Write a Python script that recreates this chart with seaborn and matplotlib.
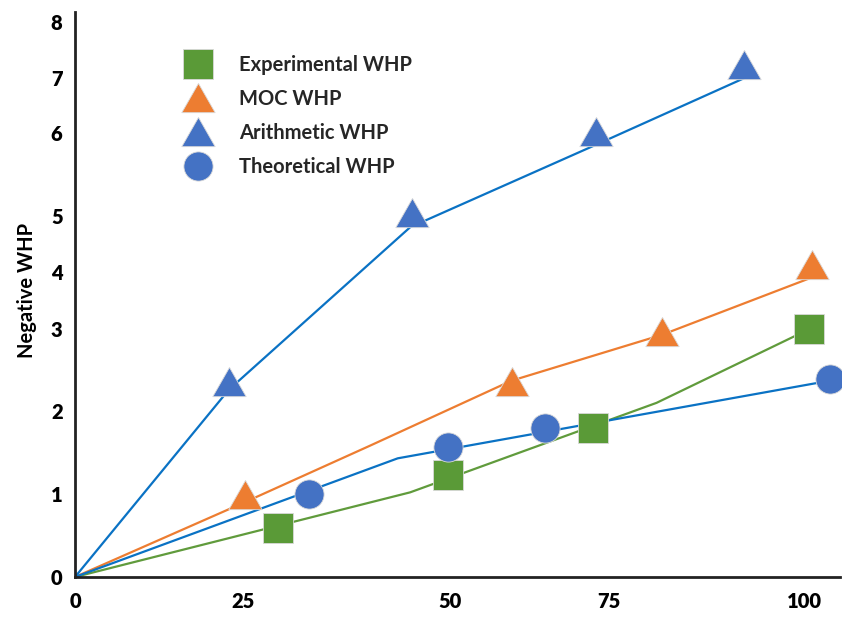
import numpy as np
import matplotlib
matplotlib.use("Agg")
import matplotlib.pyplot as plt
from matplotlib.lines import Line2D
from matplotlib.path import Path
import seaborn as sns

# ---- data -------------------------------------------------------------
x_ticks = [0, 25, 50, 75, 100]
y_ticks = [0, 1, 2, 3, 4, 5, 6, 7, 8]

# fitted / computed curves
exp_line_x = [0, 45.2, 81.1, 100.6]
exp_line_y = [0, 1.02, 2.10, 3.00]
moc_line_x = [0, 25.2, 40.3, 59.7, 81.8, 101.0]
moc_line_y = [0, 0.90, 1.58, 2.37, 2.93, 3.91]
ari_line_x = [0, 22.9, 45.2, 73.6, 92.3]
ari_line_y = [0, 2.26, 4.80, 5.88, 7.00]
the_line_x = [0, 43.7, 103.2]
the_line_y = [0, 1.43, 2.37]

# measured / reported points
exp_pts_x = [29.2, 49.8, 72.5, 100.6]
exp_pts_y = [0.59, 1.23, 1.80, 3.00]
moc_pts_x = [25.2, 59.7, 81.8, 100.9]
moc_pts_y = [0.99, 2.35, 2.96, 4.13]
ari_pts_x = [22.9, 45.4, 73.0, 92.3]
ari_pts_y = [2.35, 5.04, 6.02, 7.23]
the_pts_x = [33.0, 49.8, 64.9, 103.2]
the_pts_y = [1.00, 1.57, 1.80, 2.39]

labels = ["Experimental WHP", "MOC WHP", "Arithmetic WHP", "Theoretical WHP"]

# axis scale knots (value -> relative position)
x_knots_val = [-100, 0, 25, 50, 75, 100, 200]
x_knots_pos = [-672, 0, 168, 375, 534, 730, 1514]
y_knots_val = [-10, 0, 1, 2, 3, 4, 5, 6, 7, 8, 20]
y_knots_pos = [-830, 0, 83, 166, 248, 305, 361, 444, 499, 555, 1227]

# ---- styling ----------------------------------------------------------
sns.set_theme(style="white")
plt.rcParams["font.family"] = ["Lato", "DejaVu Sans"]

GREEN = "#5a9a37"
GREEN_LINE = "#609b3c"
ORANGE = "#ed7d31"
BLUE_MK = "#4472c4"
BLUE_LN = "#0a72c4"

tri = Path([(-1.0, -0.85), (1.0, -0.85), (0.0, 0.9), (-1.0, -0.85)],
           [Path.MOVETO, Path.LINETO, Path.LINETO, Path.CLOSEPOLY])

fig = plt.figure(figsize=(8.42, 6.22), dpi=100)
W, H = 842, 622
ax = fig.add_axes([75 / W, (H - 577) / H, (840 - 75) / W, (577 - 12) / H])


def fwd(knv, knp):
    return lambda v: np.interp(v, knv, knp)


def inv(knv, knp):
    return lambda p: np.interp(p, knp, knv)


ax.set_xscale("function", functions=(fwd(x_knots_val, x_knots_pos), inv(x_knots_val, x_knots_pos)))
ax.set_yscale("function", functions=(fwd(y_knots_val, y_knots_pos), inv(y_knots_val, y_knots_pos)))

lw = 1.6
sns.lineplot(x=exp_line_x, y=exp_line_y, color=GREEN_LINE, lw=lw, ax=ax, sort=False, zorder=2)
sns.lineplot(x=moc_line_x, y=moc_line_y, color=ORANGE, lw=lw, ax=ax, sort=False, zorder=2)
sns.lineplot(x=ari_line_x, y=ari_line_y, color=BLUE_LN, lw=lw, ax=ax, sort=False, zorder=2)
sns.lineplot(x=the_line_x, y=the_line_y, color=BLUE_LN, lw=lw, ax=ax, sort=False, zorder=2)

ec = "#d9d9d9"
sns.scatterplot(x=exp_pts_x, y=exp_pts_y, marker="s", s=21.5 ** 2, color=GREEN,
                edgecolor=ec, linewidth=0.6, ax=ax, zorder=4, clip_on=False)
sns.scatterplot(x=moc_pts_x, y=moc_pts_y, marker=tri, s=24 ** 2, color=ORANGE,
                edgecolor=ec, linewidth=0.6, ax=ax, zorder=4, clip_on=False)
sns.scatterplot(x=ari_pts_x, y=ari_pts_y, marker=tri, s=24 ** 2, color=BLUE_MK,
                edgecolor=ec, linewidth=0.6, ax=ax, zorder=4, clip_on=False)
sns.scatterplot(x=the_pts_x, y=the_pts_y, marker="o", s=21 ** 2, color=BLUE_MK,
                edgecolor=ec, linewidth=0.6, ax=ax, zorder=4, clip_on=False)

ax.set_xlim(0, 104.5)
ax.set_ylim(0, 8.18)
ax.set_xticks(x_ticks)
ax.set_yticks(y_ticks)
ax.set_xticklabels([str(v) for v in x_ticks], fontsize=14.5, fontweight="heavy")
ax.set_yticklabels([str(v) for v in y_ticks], fontsize=14.5, fontweight="heavy")
ax.tick_params(axis="both", length=0, colors="black")
ax.tick_params(axis="x", pad=11)
ax.tick_params(axis="y", pad=9)
ax.set_xlabel("")
ax.set_ylabel("Negative WHP", fontsize=14.5, fontweight="bold", color="black")
ax.yaxis.set_label_coords(-0.05, 0.508)

for side in ("top", "right"):
    ax.spines[side].set_visible(False)
for side in ("left", "bottom"):
    ax.spines[side].set_color("#222222")
    ax.spines[side].set_linewidth(2)
ax.grid(False)

handles = [
    Line2D([], [], ls="none", marker="s", ms=21.5, mfc=GREEN, mec=ec, mew=0.6),
    Line2D([], [], ls="none", marker=tri, ms=24, mfc=ORANGE, mec=ec, mew=0.6),
    Line2D([], [], ls="none", marker=tri, ms=24, mfc=BLUE_MK, mec=ec, mew=0.6),
    Line2D([], [], ls="none", marker="o", ms=21, mfc=BLUE_MK, mec=ec, mew=0.6),
]
leg = ax.legend(handles, labels, loc="upper left", bbox_to_anchor=(172 / W, 1 - 45 / H),
                bbox_transform=fig.transFigure, frameon=False, borderpad=0,
                handlelength=1.6, handletextpad=1.25, labelspacing=0.7,
                prop={"size": 14.5, "weight": "bold"})

fig.savefig("out.png", dpi=100, facecolor="white")
